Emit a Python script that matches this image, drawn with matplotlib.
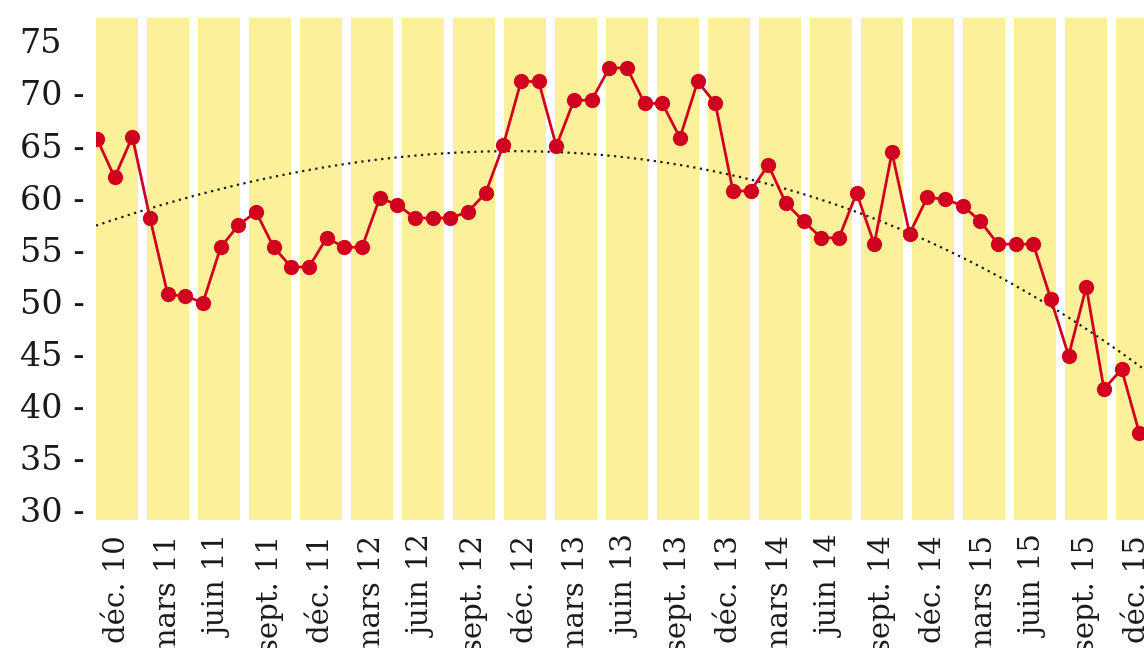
import numpy as np
import matplotlib
matplotlib.use("Agg")
import matplotlib.pyplot as plt
from matplotlib import rcParams

rcParams.update({
    "font.family": "DejaVu Serif",
    "font.size": 21,
    "text.color": "#1a1a1a",
    "xtick.color": "#1a1a1a",
    "ytick.color": "#1a1a1a",
})

YELLOW = "#FDF09B"
RED = "#D0021F"

# quarterly bands
quarters = ["déc. 10", "mars 11", "juin 11", "sept. 11",
            "déc. 11", "mars 12", "juin 12", "sept. 12",
            "déc. 12", "mars 13", "juin 13", "sept. 13",
            "déc. 13", "mars 14", "juin 14", "sept. 14",
            "déc. 14", "mars 15", "juin 15", "sept. 15", "déc. 15"]

# monthly values (déc. 10 -> nov. 15)
values = [65.6, 61.9, 65.8, 58.0, 50.7, 50.5, 49.9, 55.2, 57.3, 58.6,
          55.2, 53.3, 53.3, 56.1, 55.2, 55.2, 59.9, 59.3, 58.0, 58.0,
          58.0, 58.6, 60.4, 65.0, 71.1, 71.1, 64.9, 69.3, 69.3, 72.4,
          72.4, 69.0, 69.0, 65.7, 71.1, 69.0, 60.6, 60.6, 63.1, 59.4,
          57.7, 56.1, 56.1, 60.4, 55.5, 64.3, 56.5, 60.0, 59.8, 59.2,
          57.7, 55.5, 55.5, 55.5, 50.2, 44.8, 51.4, 41.6, 43.5, 37.4]

# trend line (month index, value)
trend_m = [0, 5.3, 10.9, 16.6, 19.8, 23.6, 26.0, 29.2, 33.0, 37.3,
           41.1, 45.8, 50.5, 54.6, 59.3]
trend_v = [57.3, 60.0, 62.4, 63.7, 64.2, 64.4, 64.4, 63.9, 62.9, 61.8,
           59.6, 56.8, 53.1, 48.5, 43.6]

yticks = [30, 35, 40, 45, 50, 55, 60, 65, 70, 75]

YMIN, YMAX = 29.04, 77.19

fig = plt.figure(figsize=(11.44, 6.48), dpi=100)
ax = fig.add_axes([96 / 1144, 128 / 648, 1062 / 1144, 502 / 648])

xq = np.arange(len(quarters))
ax.bar(xq, YMAX - YMIN, bottom=YMIN, width=42 / 51, color=YELLOW, zorder=0)
ax.set_xlim(-0.4118, len(quarters) - 1 + 0.4118)
ax.set_ylim(YMIN, YMAX)
ax.set_xticks(xq)
ax.set_xticklabels(quarters, rotation=90, va="top", ha="center")
ax.set_yticks(yticks)
ax.set_yticklabels([f"{v} -" if v != 75 else f"{v}" for v in yticks],
                   fontsize=24)
for lab in ax.get_yticklabels():
    lab.set_horizontalalignment("left")
ax.tick_params(axis="x", length=0, pad=11)
ax.tick_params(axis="y", length=0, pad=55)
for s in ax.spines.values():
    s.set_visible(False)

# monthly series on its own x scale
ax2 = ax.twiny()
m = np.arange(len(values))
ax2.set_xlim(-0.057, 60.06)
ax2.set_ylim(YMIN, YMAX)
coef = np.polyfit(trend_m, trend_v, 3)
mt = np.linspace(-0.057, 60.06, 300)
ax2.plot(mt, np.polyval(coef, mt), color="#1a1a1a", lw=1.6,
         ls=(0, (1, 2)), zorder=2)
ax2.plot(m, values, color=RED, lw=2.0, marker="o", ms=10, zorder=3)
ax2.set_xticks([])
for s in ax2.spines.values():
    s.set_visible(False)

fig.savefig("out.png", dpi=100)
